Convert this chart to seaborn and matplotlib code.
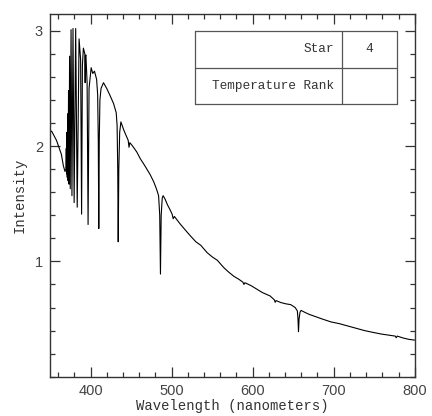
import matplotlib
matplotlib.use("Agg")
import matplotlib.pyplot as plt
from matplotlib.ticker import MultipleLocator
import seaborn as sns
import pandas as pd

# ---- data ----
wavelength = [
    350.0, 352.0, 355.0, 358.0, 361.0, 364.0, 366.5, 368.5, 369.6,
    370.1, 370.5, 370.9, 371.3, 371.8, 372.3, 372.9, 373.5, 374.2, 375.0,
    376.0, 377.1, 378.4, 379.8, 381.7, 383.6, 385.9, 387.8, 389.0, 390.0,
    391.2, 393.0, 393.4, 393.8, 394.3, 395.8, 397.0, 398.2, 400.8, 402.8,
    404.9, 407.5, 408.8, 409.6, 410.2, 410.8, 411.6, 413.0, 416.0, 420.0,
    424.0, 428.4, 431.7, 432.8, 433.6, 434.2, 434.9, 436.0, 437.5, 441.0,
    444.0, 446.5, 447.5, 448.5, 452.0, 457.0, 461.5, 467.0, 473.8, 478.0,
    481.3, 484.0, 485.4, 486.3, 487.2, 488.5, 489.6, 492.0, 495.0, 498.0,
    500.7, 502.0, 503.5, 510.0, 516.0, 523.4, 530.0, 536.0, 544.0, 550.0,
    556.4, 564.6, 570.0, 577.0, 583.0, 588.0, 589.3, 590.5, 598.0, 605.0,
    612.0, 621.6, 627.0, 627.8, 629.0, 634.8, 641.0, 647.0, 652.5, 655.2,
    656.0, 656.6, 657.3, 658.5, 659.8, 665.0, 670.0, 676.0, 686.0, 696.7,
    707.0, 717.4, 728.0, 738.0, 748.0, 758.7, 768.0, 776.0, 777.2, 778.5,
    786.0, 792.0, 800.0,
]
intensity = [
    2.12, 2.13, 2.09, 2.05, 1.99, 1.93, 1.83, 1.78, 1.80,
    1.98, 1.76, 2.12, 1.73, 2.28, 1.70, 2.48, 1.67, 2.78, 1.63,
    3.01, 1.57, 3.02, 1.51, 3.02, 1.47, 2.93, 2.75, 1.41, 2.70,
    2.85, 2.80, 2.55, 2.78, 2.79, 2.55, 1.32, 2.50, 2.68, 2.63,
    2.65, 2.58, 2.45, 2.05, 1.285, 2.05, 2.40, 2.50, 2.55, 2.50,
    2.44, 2.37, 2.29, 2.18, 1.80, 1.17, 1.80, 2.12, 2.21, 2.14,
    2.09, 2.05, 1.99, 2.03, 2.00, 1.95, 1.89, 1.83, 1.75, 1.69,
    1.63, 1.57, 1.40, 0.89, 1.40, 1.55, 1.57, 1.54, 1.49, 1.45,
    1.41, 1.37, 1.39, 1.33, 1.28, 1.22, 1.17, 1.14, 1.075, 1.04,
    1.01, 0.945, 0.91, 0.87, 0.845, 0.82, 0.80, 0.815, 0.79, 0.76,
    0.73, 0.70, 0.665, 0.645, 0.66, 0.643, 0.632, 0.625, 0.60, 0.57,
    0.50, 0.39, 0.50, 0.56, 0.575, 0.556, 0.54, 0.525, 0.50, 0.475,
    0.46, 0.44, 0.42, 0.40, 0.385, 0.37, 0.36, 0.352, 0.338, 0.352,
    0.335, 0.325, 0.317,
]

x_ticks = [400, 500, 600, 700, 800]
y_ticks = [1, 2, 3]
table_rows = ["Star", "Temperature Rank"]
table_values = ["4", ""]

sns.set_style("ticks")
plt.rcParams["font.family"] = ["Liberation Mono", "DejaVu Sans Mono"]

df = pd.DataFrame({"Wavelength": wavelength, "Intensity": intensity})

fig = plt.figure(figsize=(4.32, 4.16), dpi=100)
ax = fig.add_axes([0.1157, 0.0945, 0.8443, 0.873])

sns.lineplot(data=df, x="Wavelength", y="Intensity", sort=False,
             estimator=None, color="black", linewidth=0.8, ax=ax)

ax.set_xlim(350, 800)
ax.set_ylim(0, 3.15)
ax.set_xticks(x_ticks)
ax.set_yticks(y_ticks)
ax.xaxis.set_minor_locator(MultipleLocator(20))
ax.yaxis.set_minor_locator(MultipleLocator(0.2))
ax.tick_params(which="both", direction="in", top=True, right=True,
               color="#333333", width=0.9)
ax.tick_params(which="major", length=7, labelsize=10.5, pad=5)
ax.tick_params(which="minor", length=3.5)
for lab in ax.get_xticklabels() + ax.get_yticklabels():
    lab.set_fontfamily("Liberation Sans")
    lab.set_color("#444444")
for s in ax.spines.values():
    s.set_linewidth(1.0)
    s.set_color("#333333")

ax.set_xlabel("Wavelength (nanometers)", fontsize=10, color="#333333", labelpad=1)
ax.set_ylabel("Intensity", fontsize=10, color="#333333", labelpad=6)

# info table in the upper right
tl, tr, tm = 0.398, 0.951, 0.80
ttop, tmid, tbot = 0.951, 0.851, 0.752
tcol = "#555555"
for yy in (ttop, tmid, tbot):
    ax.plot([tl, tr], [yy, yy], transform=ax.transAxes, color=tcol, lw=0.9, clip_on=False)
for xx in (tl, tm, tr):
    ax.plot([xx, xx], [tbot, ttop], transform=ax.transAxes, color=tcol, lw=0.9, clip_on=False)
for i, (lab, val) in enumerate(zip(table_rows, table_values)):
    yc = (ttop + tmid) / 2 if i == 0 else (tmid + tbot) / 2
    ax.text(tm - 0.02, yc, lab, transform=ax.transAxes, ha="right", va="center",
            fontsize=9.2, color="#333333")
    ax.text((tm + tr) / 2, yc, val, transform=ax.transAxes, ha="center", va="center",
            fontsize=9.2, color="#333333")

fig.savefig("out.png", dpi=100)
